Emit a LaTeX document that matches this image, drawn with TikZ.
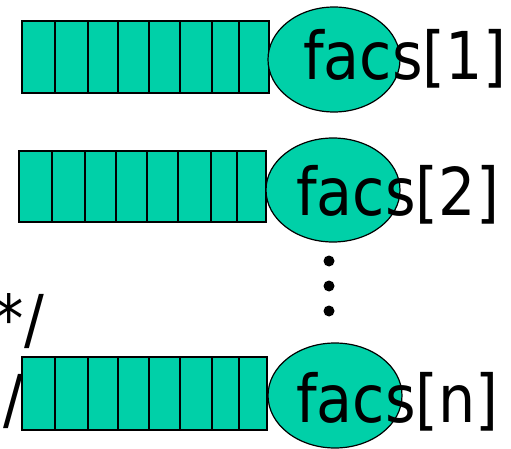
\documentclass[tikz,border=0pt]{standalone}
\usepackage{fontspec}
\setmainfont[FakeStretch=0.89]{DejaVu Sans}
\definecolor{cellfill}{RGB}{0,208,168}
\tikzset{
  cell/.style={fill=cellfill, draw=black, line width=1.4pt},
  blob/.style={ellipse, fill=cellfill, draw=black, line width=1.2pt, inner sep=0pt},
  lbl/.style={inner sep=0pt, font=\fontsize{66}{66}\selectfont, text=black},
  dotmark/.style={circle, fill=black, inner sep=0pt, minimum size=11pt}
}
\usetikzlibrary{shapes.geometric}
\begin{document}
\begin{tikzpicture}[x=1pt,y=-1pt]
\useasboundingbox (0,0) rectangle (511,449);
% row 1
\foreach \a/\b in {22/55,55/88,88/118,118/149,149/180,180/212,212/239,239/269}
  \draw[cell] (\a,21) rectangle (\b,93);
\node[blob, minimum width=132pt, minimum height=105pt] (e1) at (334,59.5) {};
\node[lbl, anchor=base west] (t1) at (303,80) {facs[1]};
% row 2
\foreach \a/\b in {19/52,52/85,85/116,116/147,147/178,178/211,211/237,237/266}
  \draw[cell] (\a,151) rectangle (\b,222);
\node[blob, minimum width=134pt, minimum height=104pt] (e2) at (333,190) {};
\node[lbl, anchor=base west] (t2) at (296,215) {facs[2]};
% dots
\node[dotmark] (d1) at (329,261) {};
\node[dotmark] (d2) at (329,286) {};
\node[dotmark] (d3) at (329,311) {};
% row 3
\foreach \a/\b in {22/55,55/88,88/118,118/149,149/180,180/212,212/239,239/267}
  \draw[cell] (\a,357) rectangle (\b,430);
\node[blob, minimum width=134pt, minimum height=105pt] (e3) at (335,395.5) {};
\node[lbl, anchor=base west] (t3) at (296,422) {facs[n]};
% comment text that the reference shows cut off at its left edge
\node[lbl, anchor=base east] (c1) at (44,342) {*/};
\node[lbl, anchor=base east] (c2) at (23,422) {/};
\end{tikzpicture}
\end{document}
